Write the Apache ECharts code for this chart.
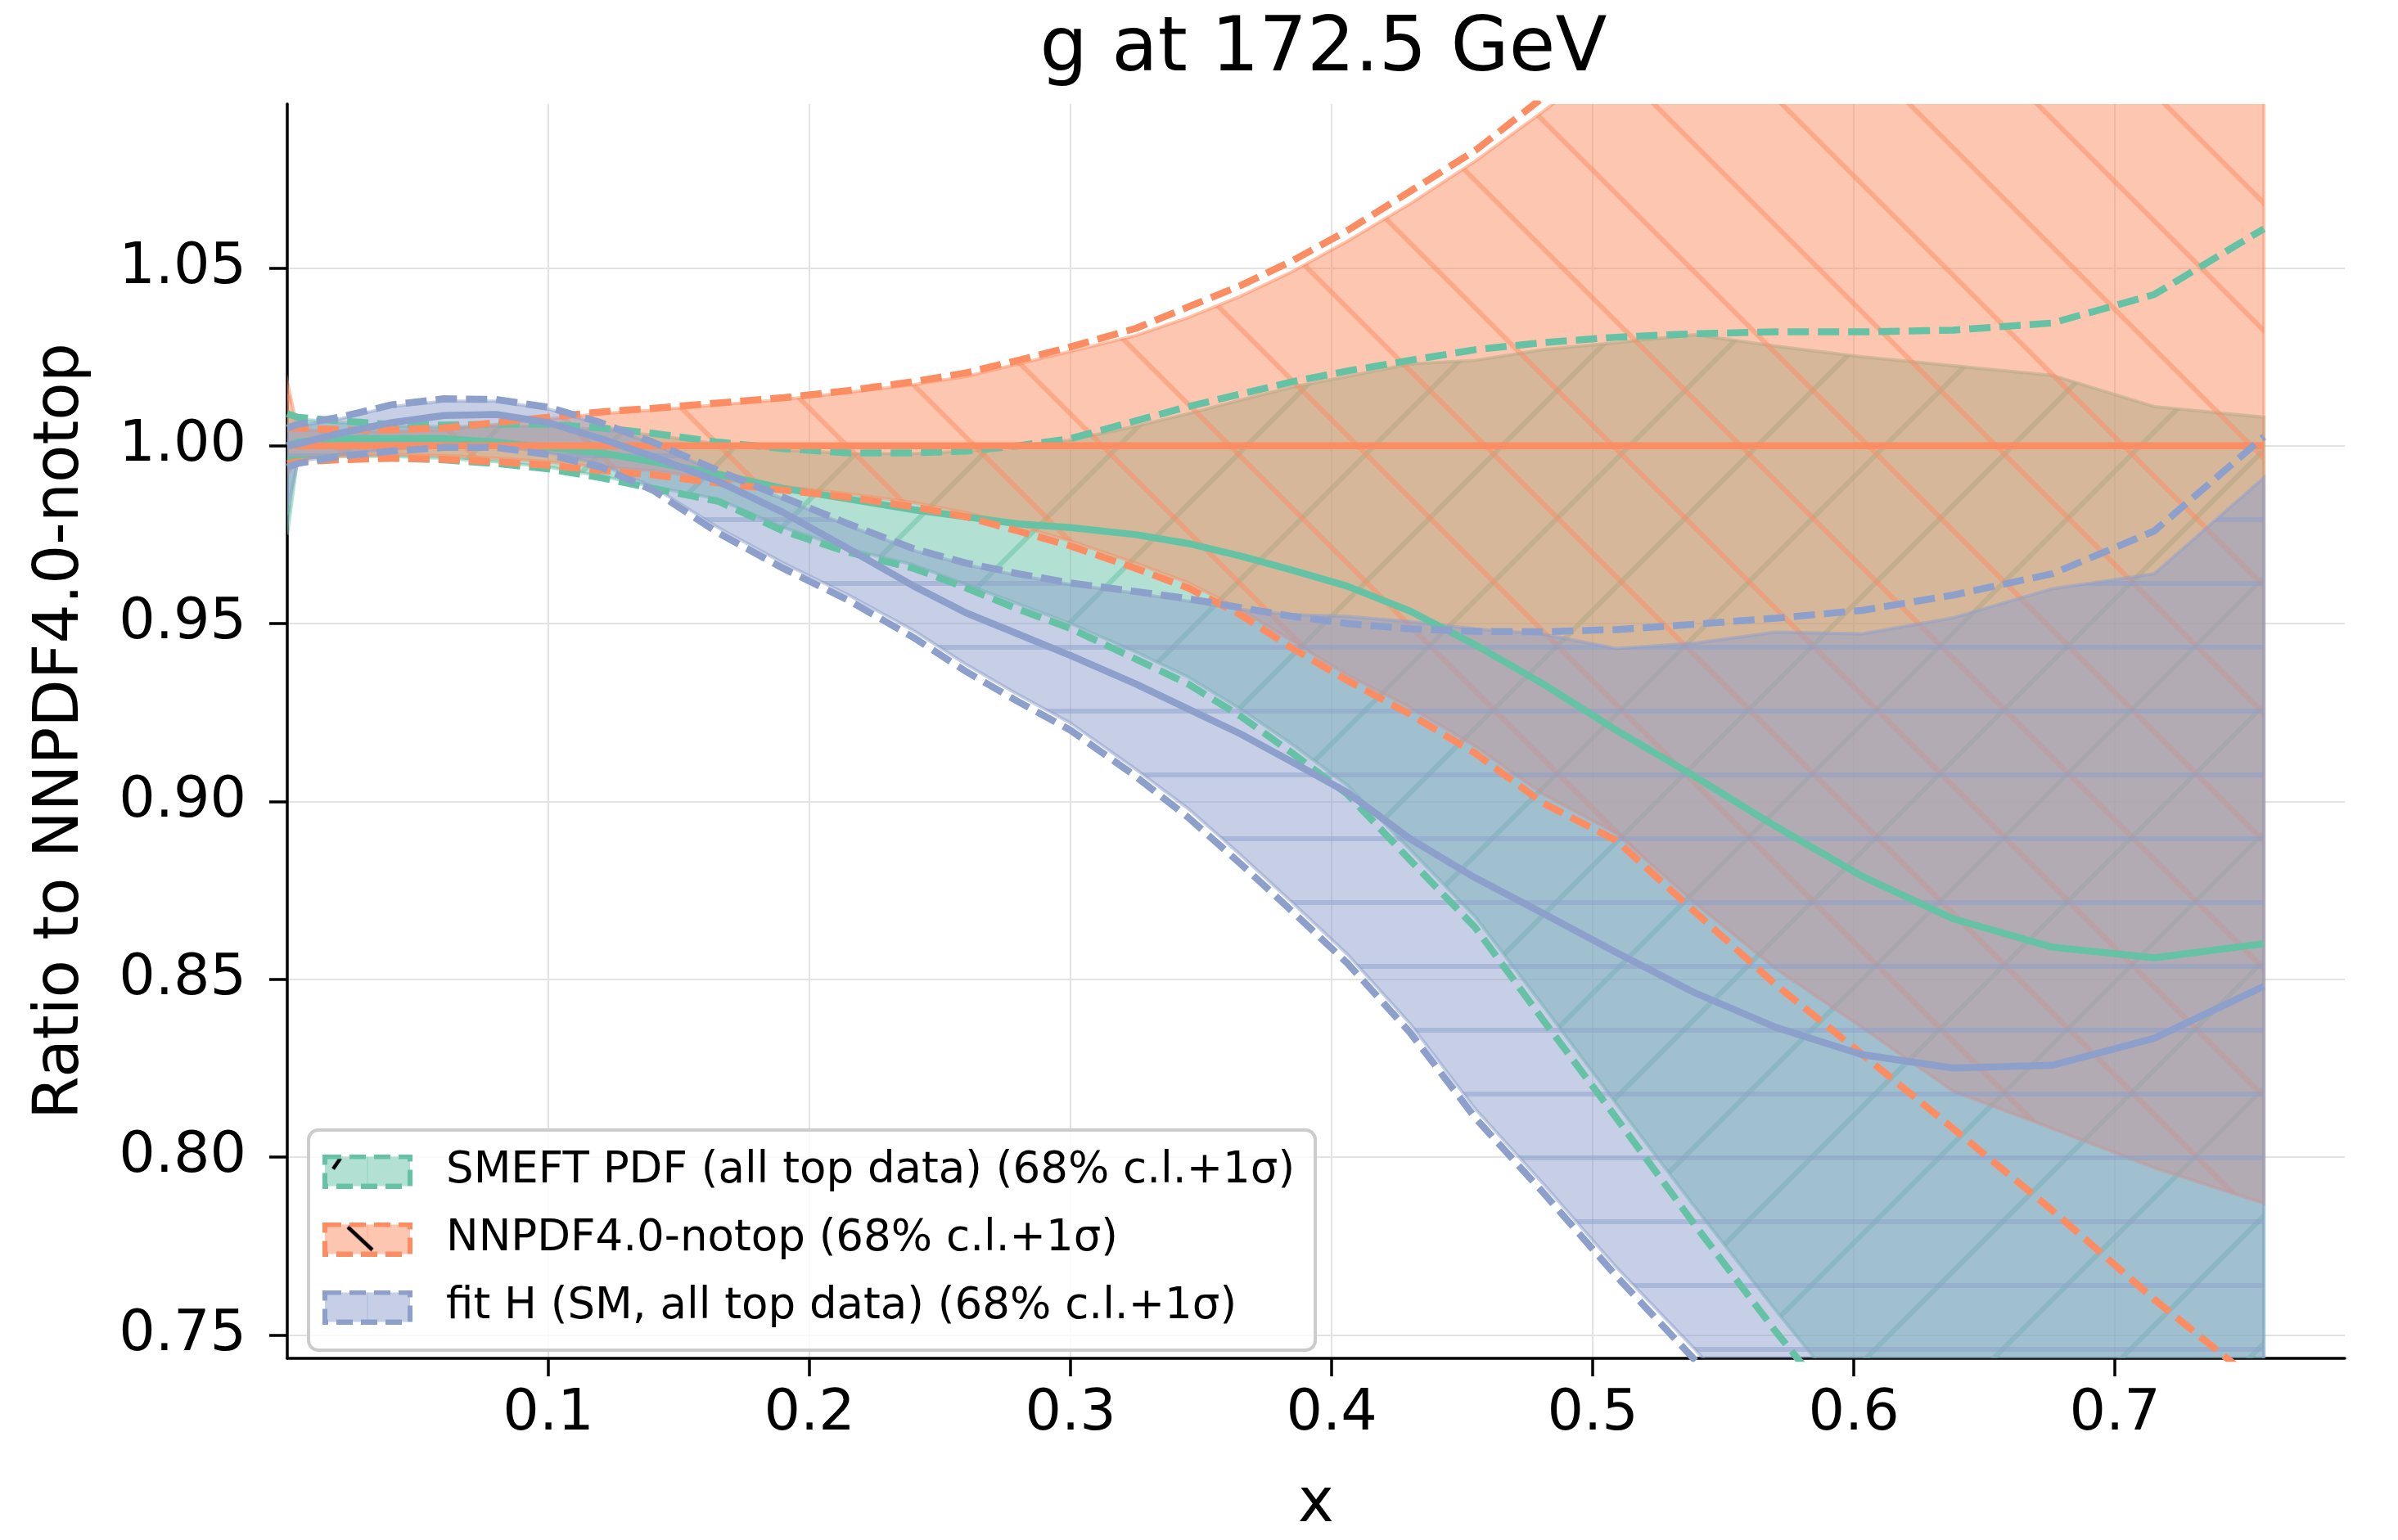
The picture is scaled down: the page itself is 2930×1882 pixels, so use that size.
<!DOCTYPE html>
<html><head><meta charset="utf-8">
<script src="https://cdn.jsdelivr.net/npm/echarts@6/dist/echarts.min.js"></script>
<style>html,body{margin:0;padding:0;background:#fff}#c{width:2930px;height:1882px}</style>
</head><body><div id="c"></div>
<script>
// ---------- data ----------
const TITLE = 'g at 172.5 GeV';
const X_NAME = 'x';
const Y_NAME = 'Ratio to NNPDF4.0-notop';
const X_TICKS = [0.1, 0.2, 0.3, 0.4, 0.5, 0.6, 0.7];
const Y_TICKS = [0.75, 0.80, 0.85, 0.90, 0.95, 1.00, 1.05];
const NAMES = ['SMEFT PDF (all top data) (68% c.l.+1σ)', 'NNPDF4.0-notop (68% c.l.+1σ)', 'fit H (SM, all top data) (68% c.l.+1σ)'];

const X = [0, 0.004, 0.02, 0.04, 0.06, 0.08, 0.10, 0.12, 0.14, 0.165, 0.19, 0.215, 0.24, 0.26, 0.28, 0.30, 0.325, 0.345, 0.365, 0.385, 0.406, 0.43, 0.455, 0.481, 0.509, 0.539, 0.570, 0.603, 0.638, 0.676, 0.715, 0.757];

const SMEFT_CENTRAL = [1.000,1.001,1.002,1.002,1.002,1.001,0.9995,0.998,0.9955,0.992, 0.988,0.985,0.982,0.980,0.978,0.977,0.975,0.9725,0.969,0.965, 0.9605,0.9535,0.944,0.933,0.920,0.907,0.893,0.879,0.867,0.859, 0.856,0.860];
const SMEFT_SIGMA_UP = [1.009,1.008,1.007,1.006,1.0058,1.006,1.006,1.005,1.0035,1.001, 0.9992,0.998,0.998,0.9985,1.000,1.002,1.007,1.011,1.0145,1.018, 1.021,1.024,1.027,1.029,1.0305,1.0315,1.032,1.032,1.0325,1.0345, 1.0425,1.061];
const SMEFT_SIGMA_LOW = [0.996,0.996,0.9965,0.9965,0.996,0.995,0.9935,0.991,0.988,0.9844, 0.976,0.970,0.9655,0.960,0.954,0.9486,0.940,0.933,0.924,0.9135, 0.902,0.8835,0.8645,0.8385,0.811,0.781,0.751,0.721,0.690,0.655, 0.620,0.580];
const SMEFT_CL_UP = [1.009,1.0075,1.0065,1.0055,1.0053,1.0055,1.0055,1.0045,1.003,1.0005, 0.9988,0.9978,0.9978,0.9985,1.000,1.0016,1.0055,1.009,1.0128,1.0165, 1.0195,1.023,1.024,1.027,1.029,1.0312,1.028,1.025,1.0225,1.0198, 1.011,1.008];
const SMEFT_CL_LOW = [0.975,0.9965,0.997,0.997,0.9965,0.9955,0.994,0.9915,0.9885,0.985, 0.977,0.971,0.9665,0.961,0.9555,0.950,0.942,0.935,0.926,0.916, 0.9045,0.8865,0.8675,0.8425,0.815,0.786,0.757,0.727,0.696,0.661, 0.626,0.586];

const NNPDF_CENTRAL = [1,1,1,1,1,1,1,1,1,1, 1,1,1,1,1,1,1,1,1,1, 1,1,1,1,1,1,1,1,1,1, 1,1];
const NNPDF_SIGMA_UP = [1.005,1.005,1.0045,1.0045,1.005,1.0065,1.008,1.0095,1.0105,1.012, 1.0135,1.0155,1.018,1.0205,1.024,1.0278,1.033,1.039,1.045,1.052, 1.0605,1.0715,1.083,1.098,1.115,1.133,1.150,1.170,1.190,1.210, 1.230,1.250];
const NNPDF_SIGMA_LOW = [0.995,0.9955,0.996,0.9965,0.9962,0.9955,0.9945,0.993,0.9918,0.9895, 0.9875,0.9855,0.9828,0.980,0.976,0.9718,0.9655,0.960,0.9525,0.943, 0.934,0.9245,0.9135,0.8995,0.889,0.869,0.8485,0.829,0.808,0.785, 0.760,0.735];
const NNPDF_CL_UP = [1.018,1.0045,1.004,1.004,1.0045,1.006,1.0075,1.009,1.010,1.0115, 1.013,1.015,1.0172,1.0195,1.023,1.0265,1.031,1.036,1.042,1.049, 1.0575,1.068,1.080,1.094,1.110,1.128,1.145,1.165,1.185,1.205, 1.225,1.245];
const NNPDF_CL_LOW = [0.992,0.9965,0.997,0.9975,0.9972,0.9965,0.9955,0.994,0.993,0.9905, 0.9885,0.9865,0.984,0.9812,0.9775,0.9732,0.967,0.9615,0.954,0.945, 0.9355,0.9265,0.9155,0.902,0.891,0.8715,0.853,0.8365,0.8185,0.808, 0.797,0.787];

const FITH_CENTRAL = [1.000,1.0005,1.0035,1.0065,1.0085,1.0088,1.0065,1.002,0.997,0.990, 0.9812,0.971,0.9605,0.953,0.947,0.941,0.933,0.926,0.919,0.911, 0.9025,0.8895,0.8785,0.8685,0.8575,0.8462,0.8365,0.8288,0.825,0.8258, 0.8334,0.848];
const FITH_SIGMA_UP = [1.005,1.006,1.008,1.0115,1.0132,1.013,1.0108,1.0065,1.001,0.993, 0.9855,0.978,0.971,0.967,0.964,0.9614,0.959,0.957,0.9545,0.952, 0.950,0.9485,0.9478,0.9477,0.9483,0.9498,0.9515,0.9537,0.958,0.964, 0.976,1.0025];
const FITH_SIGMA_LOW = [0.994,0.995,0.997,0.9985,0.9995,0.9995,0.9975,0.994,0.9875,0.9755, 0.9655,0.9565,0.946,0.9365,0.928,0.920,0.907,0.8955,0.8825,0.869, 0.8545,0.835,0.811,0.790,0.7665,0.743,0.718,0.690,0.660,0.628, 0.595,0.560];
const FITH_CL_UP = [1.006,1.0055,1.0075,1.011,1.0125,1.0125,1.0103,1.006,1.0005,0.9925, 0.985,0.9775,0.9705,0.9665,0.9635,0.961,0.9585,0.9563,0.954,0.9525, 0.952,0.9505,0.9485,0.947,0.943,0.9445,0.9476,0.9471,0.9516,0.9598, 0.964,0.991];
const FITH_CL_LOW = [0.982,0.9955,0.9975,0.999,1.000,1.000,0.998,0.9948,0.9885,0.977, 0.967,0.958,0.948,0.9385,0.930,0.922,0.909,0.898,0.885,0.8715, 0.857,0.8375,0.8135,0.7925,0.769,0.746,0.721,0.693,0.663,0.631, 0.598,0.563];

// ---------- styling ----------
const FONT = 'DejaVu Sans';
const RGB = ['102,194,165', '252,141,98', '141,160,203'];
const W = 2930, H = 1882;
const PLOT = {left: 351, right: 2865, top: 127, bottom: 1679};
const XMAX = 0.788, YMIN = 0.7434, YMAX = 1.0961;
const LW = 8.5, HATCH_LW = 6;

function diagTile(rgb, dir, S, phase) {
  const c = document.createElement('canvas'); c.width = S; c.height = S;
  const g = c.getContext('2d');
  g.fillStyle = `rgba(${rgb},0.5)`; g.fillRect(0, 0, S, S);
  g.strokeStyle = `rgba(${rgb},0.5)`; g.lineWidth = HATCH_LW;
  for (let k = -3; k <= 3; k++) {
    const cc = phase + k * S;
    g.beginPath();
    if (dir === '\\') { g.moveTo(-S, -S + cc); g.lineTo(2 * S, 2 * S + cc); }
    else { g.moveTo(-S, cc + S); g.lineTo(2 * S, cc - 2 * S); }
    g.stroke();
  }
  return c;
}
function horizTile(rgb, S, phase) {
  const c = document.createElement('canvas'); c.width = 16; c.height = S;
  const g = c.getContext('2d');
  g.fillStyle = `rgba(${rgb},0.5)`; g.fillRect(0, 0, 16, S);
  g.strokeStyle = `rgba(${rgb},0.5)`; g.lineWidth = HATCH_LW;
  g.beginPath(); g.moveTo(-2, phase); g.lineTo(18, phase); g.stroke();
  return c;
}
function legendIcon(rgb, mark) {
  const c = document.createElement('canvas'); c.width = 110; c.height = 42;
  const g = c.getContext('2d');
  g.fillStyle = `rgba(${rgb},0.5)`; g.fillRect(3, 3, 104, 36);
  g.strokeStyle = `rgba(${rgb},0.3)`; g.lineWidth = 1.5;
  g.beginPath(); g.moveTo(55, 3); g.lineTo(55, 39); g.stroke();
  g.strokeStyle = '#000'; g.lineWidth = 4.5;
  if (mark === '/') { g.beginPath(); g.moveTo(13, 18); g.lineTo(22, 5); g.stroke(); }
  if (mark === '\\') { g.beginPath(); g.moveTo(31, 6); g.lineTo(61, 34); g.stroke(); }
  g.strokeStyle = `rgb(${rgb})`; g.lineWidth = 6; g.setLineDash([20, 10]);
  g.strokeRect(3, 3, 104, 36);
  return 'image://' + c.toDataURL();
}

const PATTERNS = [
  {image: diagTile(RGB[0], '/', 156, 40), repeat: 'repeat'},
  {image: diagTile(RGB[1], '\\', 156, 134), repeat: 'repeat'},
  {image: horizTile(RGB[2], 78, 11), repeat: 'repeat'}
];

function band(name, up, lo, idx) {
  return {
    type: 'custom', name: name, clip: true, z: 2, silent: true,
    data: [[X[0], up[0]]],
    renderItem: function (params, api) {
      if (params.dataIndex !== 0) return null;
      const pts = [];
      for (let i = 0; i < X.length; i++) pts.push(api.coord([X[i], up[i]]));
      for (let i = X.length - 1; i >= 0; i--) pts.push(api.coord([X[i], lo[i]]));
      return {type: 'polygon', shape: {points: pts},
        style: {fill: PATTERNS[idx], stroke: `rgba(${RGB[idx]},0.5)`, lineWidth: 4}};
    }
  };
}
function line(arr, idx, dashed) {
  return {
    type: 'line', name: NAMES[idx] + (dashed ? ' σ' : ' c'), z: 3, silent: true,
    data: X.map((x, i) => [x, arr[i]]), showSymbol: false, symbol: 'none', clip: true,
    lineStyle: {color: `rgb(${RGB[idx]})`, width: LW, type: dashed ? [26, 11] : 'solid', cap: 'butt'}
  };
}

const chart = echarts.init(document.getElementById('c'), null, {renderer: 'canvas', width: W, height: H});
const option = {
  animation: false,
  backgroundColor: '#ffffff',
  textStyle: {fontFamily: FONT},
  grid: {left: PLOT.left, right: W - PLOT.right, top: PLOT.top, bottom: H - PLOT.bottom, containLabel: false},
  graphic: [{type: 'text', x: 1617, y: 62,
    style: {text: TITLE, font: `92px "${FONT}"`, fill: '#000', textAlign: 'center', textVerticalAlign: 'middle'}}],
  xAxis: {
    type: 'value', min: 0, max: XMAX,
    name: X_NAME, nameLocation: 'middle', nameGap: 143,
    nameTextStyle: {fontSize: 74, color: '#000', fontFamily: FONT},
    axisLine: {show: true, onZero: false, lineStyle: {color: '#000', width: 3.5}},
    axisTick: {show: true, length: 22, customValues: X_TICKS, lineStyle: {color: '#000', width: 3.5}},
    axisLabel: {customValues: X_TICKS, fontSize: 70, color: '#000', margin: 34, fontFamily: FONT, formatter: v => v.toFixed(1)},
    splitLine: {show: true, lineStyle: {color: '#e3e3e3', width: 2}}
  },
  yAxis: {
    type: 'value', min: YMIN, max: YMAX,
    name: Y_NAME, nameLocation: 'middle', nameGap: 238,
    nameTextStyle: {fontSize: 76, color: '#000', fontFamily: FONT},
    axisLine: {show: true, onZero: false, lineStyle: {color: '#000', width: 3.5}},
    axisTick: {show: true, length: 22, customValues: Y_TICKS, lineStyle: {color: '#000', width: 3.5}},
    axisLabel: {customValues: Y_TICKS, fontSize: 70, color: '#000', margin: 50, fontFamily: FONT, formatter: v => v.toFixed(2)},
    splitLine: {show: true, lineStyle: {color: '#e3e3e3', width: 2}}
  },
  legend: {
    orient: 'vertical', left: 377, top: 1381, selectedMode: false,
    data: [{name: NAMES[0], icon: legendIcon(RGB[0], '/')}, {name: NAMES[1], icon: legendIcon(RGB[1], '\\')}, {name: NAMES[2], icon: legendIcon(RGB[2], '')}],
    itemWidth: 110, itemHeight: 42, itemGap: 30,
    padding: [24, 25, 26, 17],
    backgroundColor: 'rgba(255,255,255,0.8)', borderColor: '#cccccc', borderWidth: 4, borderRadius: 12,
    textStyle: {fontSize: 53, color: '#000', fontFamily: FONT, lineHeight: 42, padding: [0, 0, 0, 36]}
  },
  series: [
    band(NAMES[0], SMEFT_CL_UP, SMEFT_CL_LOW, 0),
    band(NAMES[1], NNPDF_CL_UP, NNPDF_CL_LOW, 1),
    band(NAMES[2], FITH_CL_UP, FITH_CL_LOW, 2),
    line(SMEFT_CENTRAL, 0, false), line(SMEFT_SIGMA_UP, 0, true), line(SMEFT_SIGMA_LOW, 0, true),
    line(NNPDF_CENTRAL, 1, false), line(NNPDF_SIGMA_UP, 1, true), line(NNPDF_SIGMA_LOW, 1, true),
    line(FITH_CENTRAL, 2, false), line(FITH_SIGMA_UP, 2, true), line(FITH_SIGMA_LOW, 2, true)
  ]
};
chart.setOption(option);
</script></body></html>
